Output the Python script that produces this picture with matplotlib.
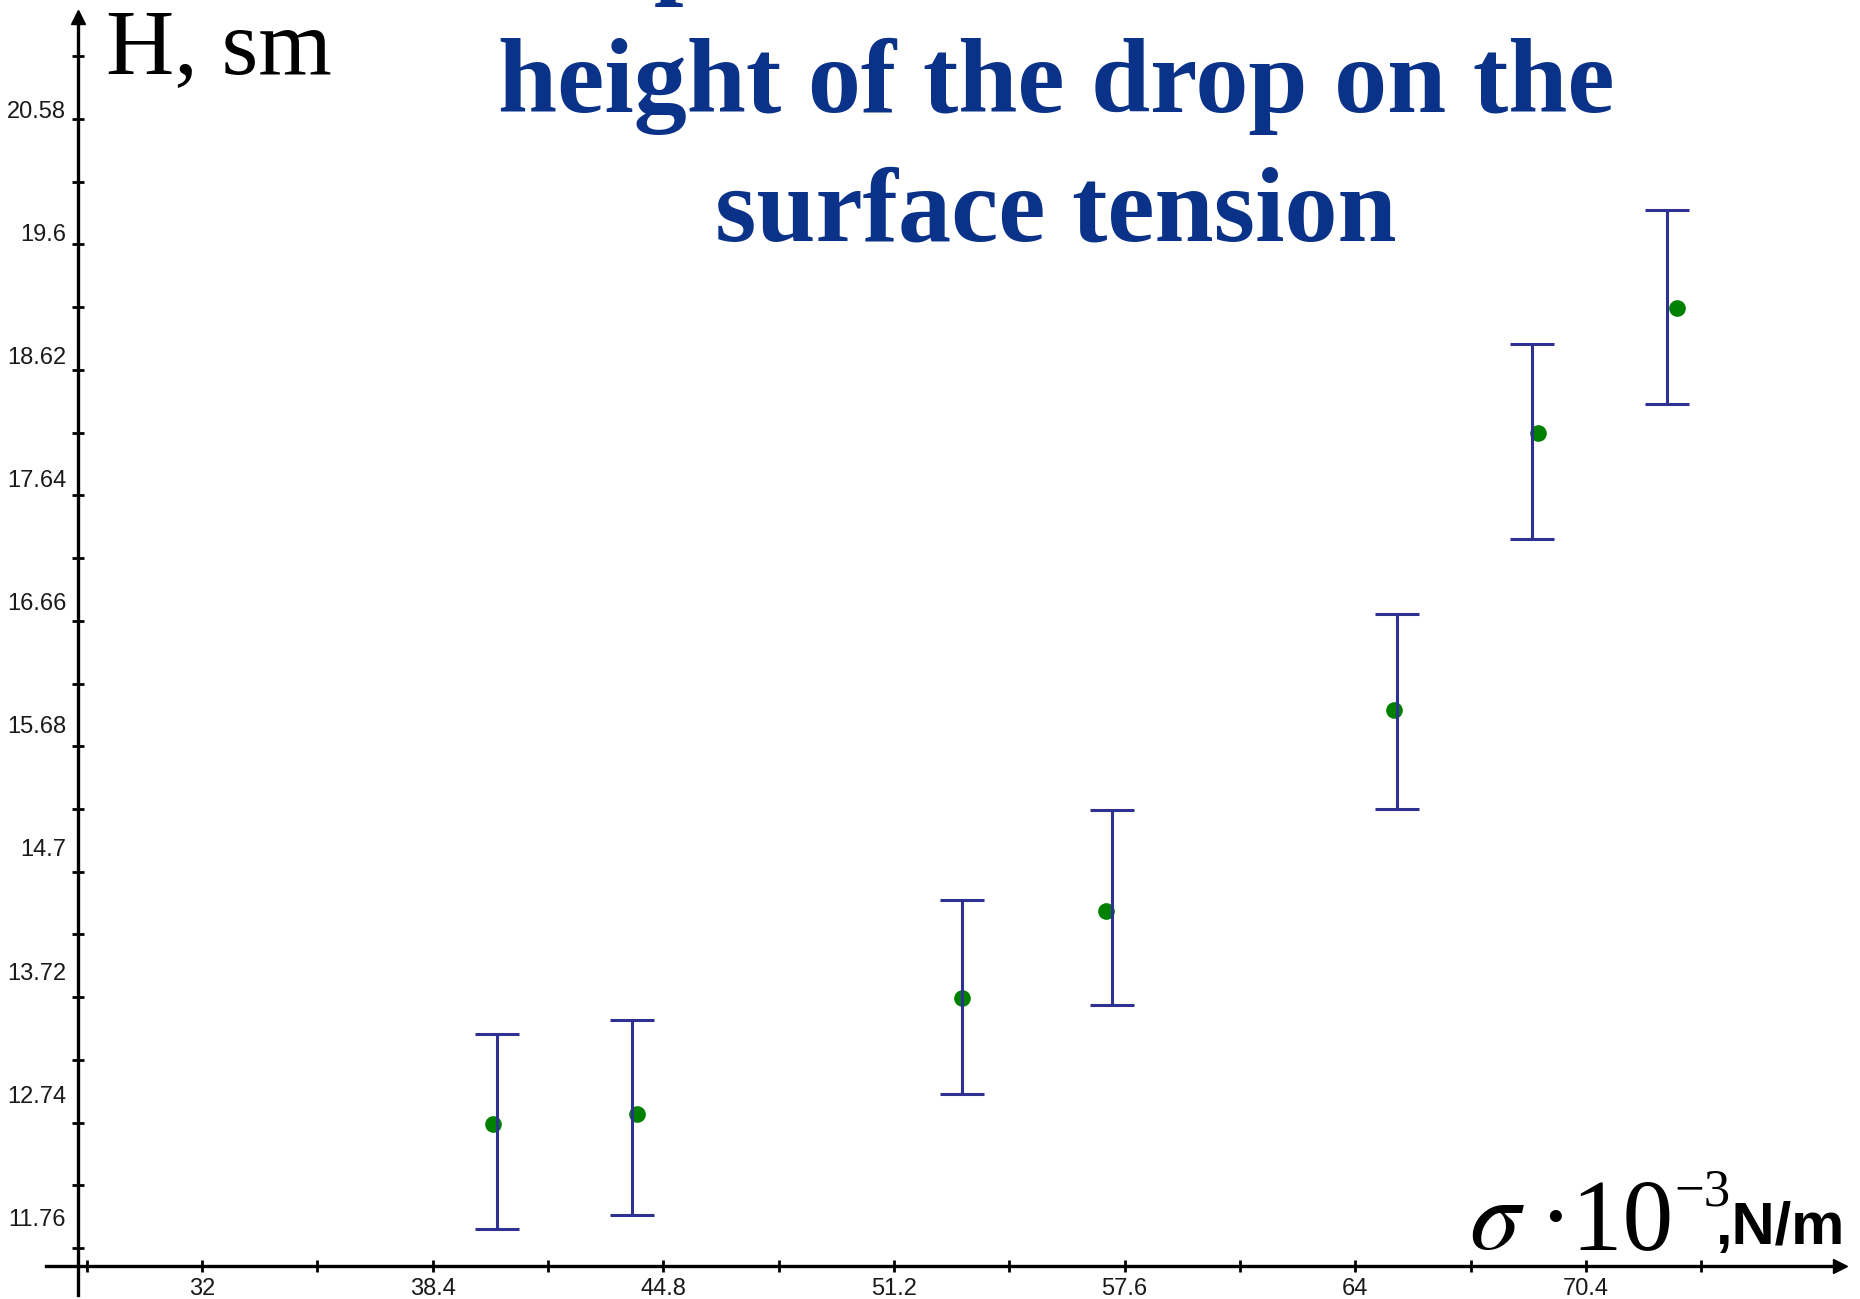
import matplotlib
matplotlib.use('Agg')
import matplotlib.pyplot as plt
import matplotlib.transforms as mtransforms

# measured points (green dots)
sigma = [40.07, 44.07, 53.09, 57.08, 65.07, 69.07, 72.93]
height = [12.73, 12.81, 13.71, 14.39, 15.96, 18.13, 19.10]

# error bars are drawn a little off the dots in the original
bar_sigma = [40.19, 43.93, 53.09, 57.25, 65.16, 68.90, 72.65]
bar_height = [12.67, 12.78, 13.72, 14.42, 15.95, 18.06, 19.11]
bar_err = [0.76, 0.76, 0.76, 0.76, 0.76, 0.76, 0.76]

xticks_major = [32, 38.4, 44.8, 51.2, 57.6, 64, 70.4]
xtick_labels = ['32', '38.4', '44.8', '51.2', '57.6', '64', '70.4']
xticks_minor = [28.8, 35.2, 41.6, 48, 54.4, 60.8, 67.2, 73.6]
yticks_major = [11.76, 12.74, 13.72, 14.7, 15.68, 16.66, 17.64, 18.62, 19.6, 20.58]
ytick_labels = ['11.76', '12.74', '13.72', '14.7', '15.68', '16.66', '17.64', '18.62', '19.6', '20.58']
yticks_minor = [12.25, 13.23, 14.21, 15.19, 16.17, 17.15, 18.13, 19.11, 20.09, 21.07]

W, H = 1860, 1299
X0, Y0 = 28.56, 11.62   # where the axes cross
TITLE_BLUE = '#0B3289'
BAR_BLUE = '#2E3192'

plt.rcParams['mathtext.fontset'] = 'stix'

def fx(px):
    return px / W

def fy(py):
    return 1 - py / H

fig = plt.figure(figsize=(W / 100, H / 100), dpi=100)
ax = fig.add_axes([0, 0, 1, 1])
ax.set_xlim(26.395, 78.005)
ax.set_ylim(11.3616, 21.51)
ax.patch.set_alpha(0)

for s in ['top', 'right']:
    ax.spines[s].set_visible(False)
ax.spines['left'].set_position(('data', X0))
ax.spines['bottom'].set_position(('data', Y0))
ax.spines['left'].set_bounds(11.39, 21.38)
ax.spines['bottom'].set_bounds(27.67, 77.45)
for s in ['left', 'bottom']:
    ax.spines[s].set_linewidth(2.4)

# arrow heads
ax.plot([X0], [21.38], marker='^', ms=10, color='k', clip_on=False)
ax.plot([77.45], [Y0], marker='>', ms=10, color='k', clip_on=False)

tick_font = ['Liberation Sans Narrow', 'Liberation Sans']
ax.set_xticks(xticks_major, xtick_labels, fontsize=17, family=tick_font, color='#1a1a1a')
ax.set_xticks(xticks_minor, minor=True)
ax.set_yticks(yticks_major, ytick_labels, fontsize=17, family=tick_font, color='#1a1a1a')
ax.set_yticks(yticks_minor, minor=True)
ax.tick_params(which='both', direction='inout', length=9, width=2, color='k')
ax.tick_params(axis='x', pad=4)
ax.tick_params(axis='y', pad=4)

# the y labels creep upward away from their ticks going down the axis
n = len(ytick_labels)
for i, lab in enumerate(ax.get_yticklabels()):
    up = (10 + 2.3 * (n - 1 - i)) / 100
    lab.set_transform(lab.get_transform() +
                      mtransforms.ScaledTranslation(0, up, fig.dpi_scale_trans))

ax.plot(sigma, height, 'o', color='#008000', ms=12, mec='none', zorder=2)
ax.errorbar(bar_sigma, bar_height, yerr=bar_err, fmt='none', ecolor=BAR_BLUE,
            elinewidth=2.2, capsize=16, capthick=2.2, zorder=3)

# axis names
fig.text(fx(106), fy(73), 'H, sm', family='Liberation Serif', fontsize=68,
         va='baseline', ha='left')
fig.text(fx(1469), fy(1249), r'$\sigma$', fontsize=73, va='baseline', ha='left')
fig.text(fx(1538), fy(1249), '\u00b710', family='Liberation Serif', fontsize=73,
         va='baseline', ha='left')
fig.text(fx(1674), fy(1206), '\u22123', family='Liberation Serif', fontsize=38,
         va='baseline', ha='left')
fig.text(fx(1716), fy(1244), ',N/m', family='Liberation Sans', weight='bold',
         fontsize=43, va='baseline', ha='left')

# title (first line is cut off by the top edge)
tkw = dict(family='Liberation Serif', weight='bold', fontsize=76.5,
           color=TITLE_BLUE, va='baseline')
fig.text(fx(530), fy(-16), 'Dependence of the', ha='left', **tkw)
fig.text(fx(1056), fy(112), 'height of the drop on the', ha='center', **tkw)
fig.text(fx(1056), fy(240), 'surface tension', ha='center', **tkw)

fig.savefig('out.png', dpi=100)
